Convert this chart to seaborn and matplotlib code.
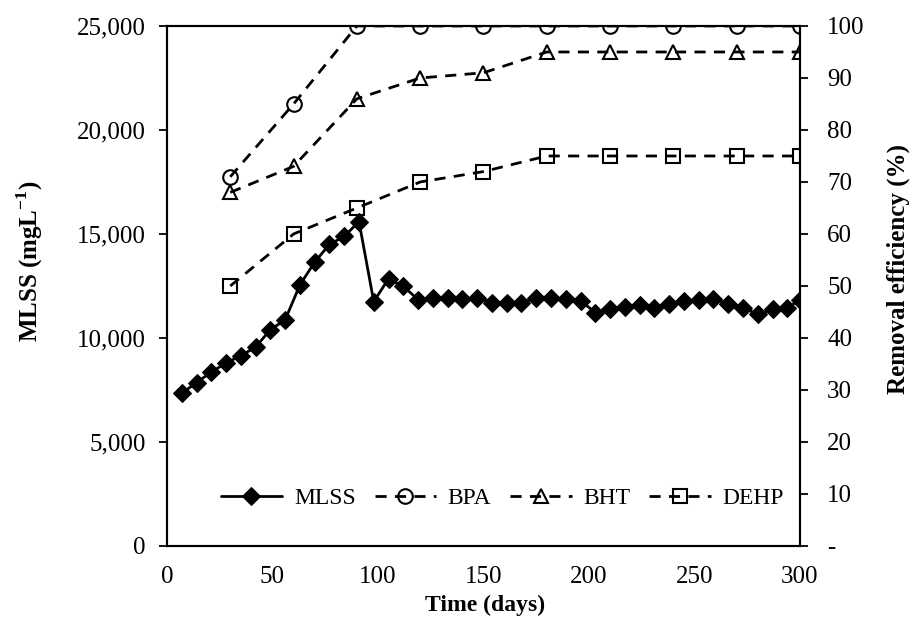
import matplotlib
matplotlib.use("Agg")
import matplotlib.pyplot as plt
import seaborn as sns
import pandas as pd
from matplotlib.ticker import FuncFormatter

# ---- data ----
mlss_days = [7, 14, 21, 28, 35, 42, 49, 56, 63, 70, 77, 84, 91, 98, 105, 112, 119, 126,
             133, 140, 147, 154, 161, 168, 175, 182, 189, 196, 203, 210, 217, 224, 231,
             238, 245, 252, 259, 266, 273, 280, 287, 294, 300]
mlss = [7340, 7860, 8360, 8800, 9150, 9560, 10400, 10870, 12550, 13650, 14500, 14880,
        15600, 11750, 12850, 12480, 11850, 11920, 11920, 11860, 11930, 11700, 11680,
        11700, 11920, 11900, 11890, 11800, 11220, 11380, 11480, 11600, 11420, 11620,
        11760, 11840, 11860, 11650, 11450, 11150, 11370, 11460, 11820]

eff_days = [30, 60, 90, 120, 150, 180, 210, 240, 270, 300]
bpa = [71, 85, 100, 100, 100, 100, 100, 100, 100, 100]
bht = [68, 73, 86, 90, 91, 95, 95, 95, 95, 95]
dehp = [50, 60, 65, 70, 72, 75, 75, 75, 75, 75]

left_ticks = [0, 5000, 10000, 15000, 20000, 25000]
right_ticks = [0, 10, 20, 30, 40, 50, 60, 70, 80, 90, 100]
x_ticks = [0, 50, 100, 150, 200, 250, 300]

sns.set_style("white")
plt.rcParams["font.family"] = ["Liberation Serif", "DejaVu Serif"]
plt.rcParams["mathtext.fontset"] = "custom"
plt.rcParams["mathtext.rm"] = "Liberation Serif"
plt.rcParams["mathtext.bf"] = "Liberation Serif:bold"
for k in ["text.color", "axes.labelcolor", "xtick.color", "ytick.color", "axes.edgecolor"]:
    plt.rcParams[k] = "black"

fig = plt.figure(figsize=(9.2, 6.26), dpi=100)
ax = fig.add_axes([0.1815, 0.1278, 0.688, 0.8307])
ax2 = ax.twinx()

df_m = pd.DataFrame({"day": mlss_days, "val": mlss})
sns.lineplot(data=df_m, x="day", y="val", ax=ax, color="black", linewidth=2,
             marker="D", markersize=9, markerfacecolor="black",
             markeredgecolor="black", label="MLSS", legend=False)

for vals, mk, name in [(bpa, "o", "BPA"), (bht, "^", "BHT"), (dehp, "s", "DEHP")]:
    d = pd.DataFrame({"day": eff_days, "val": vals})
    sns.lineplot(data=d, x="day", y="val", ax=ax2, color="black", linewidth=2,
                 linestyle=(0, (4, 3)), marker=mk, markersize=10.5,
                 markerfacecolor="none", markeredgecolor="black",
                 markeredgewidth=1.5, label=name, legend=False)

ax.set_xlim(0, 300)
ax.set_ylim(0, 25000)
ax2.set_ylim(0, 100)
ax.set_xticks(x_ticks)
ax.set_yticks(left_ticks)
ax2.set_yticks(right_ticks)
ax.yaxis.set_major_formatter(FuncFormatter(lambda v, p: f"{int(v):,}"))
ax2.yaxis.set_major_formatter(FuncFormatter(lambda v, p: "-" if v == 0 else f"{int(v)}"))

for a in (ax, ax2):
    for s in a.spines.values():
        s.set_color("black")
        s.set_linewidth(1.5)
    a.tick_params(direction="out", length=5.5, width=1.3, colors="black",
                  labelsize=18, pad=10)
ax.tick_params(axis="x", pad=9)
ax2.tick_params(axis="y", pad=14)

ax.set_xlabel("Time (days)", fontsize=17, fontweight="bold")
ax.set_ylabel(r"MLSS (mgL$^{\mathbf{-1}}$)", fontsize=18, fontweight="bold")
ax2.set_ylabel("Removal efficiency (%)", fontsize=18, fontweight="bold")
ax.xaxis.set_label_coords(0.502, -0.094)
ax.yaxis.set_label_coords(-0.192, 0.548)
ax2.yaxis.set_label_coords(1.137, 0.532)

h1, l1 = ax.get_legend_handles_labels()
h2, l2 = ax2.get_legend_handles_labels()
ax2.legend(h1 + h2, l1 + l2, loc="lower center", bbox_to_anchor=(0.53, 0.03),
           ncol=4, frameon=False, fontsize=17, handlelength=2.6,
           columnspacing=0.8, handletextpad=0.5)

fig.savefig("out.png", dpi=100)
